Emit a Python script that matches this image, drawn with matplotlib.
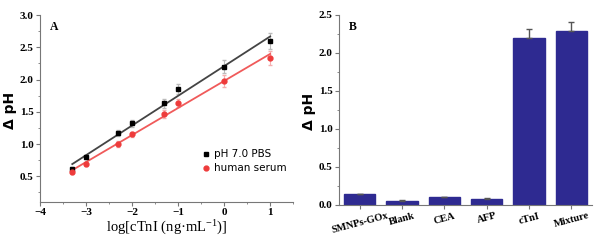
import numpy as np
import matplotlib
matplotlib.use('Agg')
import matplotlib.pyplot as plt
from matplotlib.ticker import MultipleLocator

plt.rcParams['mathtext.default'] = 'regular'

# panel A data: log concentration vs delta pH
log_conc = [-3.3, -3.0, -2.3, -2.0, -1.3, -1.0, 0.0, 1.0]
pbs = [0.62, 0.80, 1.17, 1.32, 1.63, 1.85, 2.20, 2.60]
pbs_err = [0.03, 0.03, 0.05, 0.05, 0.07, 0.08, 0.10, 0.12]
serum = [0.57, 0.69, 1.00, 1.15, 1.47, 1.64, 1.98, 2.34]
serum_err = [0.03, 0.03, 0.04, 0.04, 0.06, 0.06, 0.09, 0.11]

# panel B data: selectivity
labels = ['SMNPs-GOx', 'Blank', 'CEA', 'AFP', 'cTnI', 'Mixture']
response = [0.14, 0.05, 0.10, 0.08, 2.20, 2.29]
response_err = [0.01, 0.01, 0.01, 0.01, 0.11, 0.11]

serif = 'Liberation Serif'
fig = plt.figure(figsize=(6.07, 2.44), dpi=100)

# ---- panel A ----
ax1 = fig.add_axes([0.066, 0.172, 0.417, 0.766])
ax1.errorbar(log_conc, pbs, yerr=pbs_err, fmt='none', ecolor='#bbbbbb',
             elinewidth=0.8, capsize=1.5, zorder=1)
ax1.errorbar(log_conc, serum, yerr=serum_err, fmt='none', ecolor='#f4b0b0',
             elinewidth=0.8, capsize=1.5, zorder=1)
ax1.plot(log_conc, pbs, 's', color='black', ms=3.5, label='pH 7.0 PBS', zorder=3)
ax1.plot(log_conc, serum, 'o', color='#ee3b3b', ms=3.5, label='human serum', zorder=3)
# linear fits
xs = np.array([min(log_conc), max(log_conc)])
k1, b1 = np.polyfit(log_conc, pbs, 1)
k2, b2 = np.polyfit(log_conc, serum, 1)
ax1.plot(xs, k1 * xs + b1, color='#444444', lw=1.3, zorder=2)
ax1.plot(xs, k2 * xs + b2, color='#f05a5a', lw=1.3, zorder=2)

ax1.set_xlim(-4, 1.5)
ax1.set_ylim(0.1, 3.0)
ax1.xaxis.set_major_locator(MultipleLocator(1))
ax1.xaxis.set_minor_locator(MultipleLocator(0.5))
ax1.yaxis.set_major_locator(MultipleLocator(0.5))
ax1.yaxis.set_minor_locator(MultipleLocator(0.25))
ax1.set_yticks([0.5, 1.0, 1.5, 2.0, 2.5, 3.0])
ax1.set_xlabel('log[cTnI (ng·mL$^{-1}$)]', fontsize=10.5, family=serif, labelpad=1)
ax1.set_ylabel('Δ pH', fontsize=10, fontweight='bold')
ax1.yaxis.set_label_coords(-0.09, 0.49)
ax1.text(0.04, 0.97, 'A', transform=ax1.transAxes, fontsize=8.5, fontweight='bold',
         family=serif, va='top')
leg = ax1.legend(loc='lower right', bbox_to_anchor=(1.0, 0.12), frameon=False,
                 fontsize=7.5, handletextpad=0.3, handlelength=1.0, borderaxespad=0.2,
                 labelspacing=0.4)

# ---- panel B ----
ax2 = fig.add_axes([0.558, 0.16, 0.418, 0.779])
xpos = np.arange(len(labels))
ax2.bar(xpos, response, width=0.74, color='#2e2a91', edgecolor='#2e2a91')
ax2.errorbar(xpos, response, yerr=[np.zeros(len(response)), response_err], fmt='none',
             ecolor='#555555', elinewidth=1.0, capsize=2)
ax2.set_xlim(-0.5, 5.5)
ax2.set_ylim(0, 2.5)
ax2.yaxis.set_major_locator(MultipleLocator(0.5))
ax2.yaxis.set_minor_locator(MultipleLocator(0.25))
ax2.set_xticks(xpos)
ax2.set_xticklabels(labels, rotation=15, family=serif, fontweight='bold', fontsize=7.5)
ax2.set_ylabel('Δ pH', fontsize=10, fontweight='bold')
ax2.yaxis.set_label_coords(-0.09, 0.49)
ax2.text(0.04, 0.97, 'B', transform=ax2.transAxes, fontsize=8.5, fontweight='bold',
         family=serif, va='top')

for ax in (ax1, ax2):
    ax.spines['top'].set_visible(False)
    ax.spines['right'].set_visible(False)
    ax.spines['left'].set_color('#777777')
    ax.spines['bottom'].set_color('#777777')
    ax.tick_params(which='major', direction='out', length=3, width=0.8, color='#777777',
                   labelsize=8, pad=1.5)
    ax.tick_params(which='minor', direction='out', length=1.5, width=0.6, color='#777777')
    for t in ax.get_yticklabels():
        t.set_family(serif)
        t.set_fontweight('bold')
for t in ax1.get_xticklabels():
    t.set_family(serif)
    t.set_fontweight('bold')
ax2.tick_params(axis='x', which='minor', bottom=False)
for t in ax2.get_xticklabels():
    t.set_fontsize(7.5)

fig.savefig('out.png', dpi=100)
